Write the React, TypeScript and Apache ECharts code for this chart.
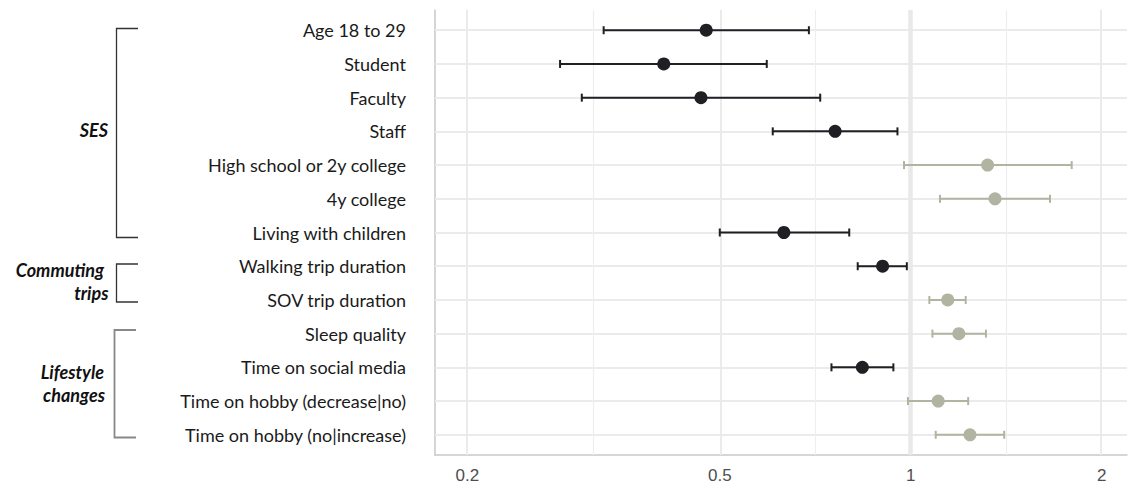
import React, { useEffect, useRef } from "react";
import * as echarts from "echarts";

// ---------- data ----------
const categories = [
  "Age 18 to 29",
  "Student",
  "Faculty",
  "Staff",
  "High school or 2y college",
  "4y college",
  "Living with children",
  "Walking trip duration",
  "SOV trip duration",
  "Sleep quality",
  "Time on social media",
  "Time on hobby (decrease|no)",
  "Time on hobby (no|increase)",
];
const estimates = [0.476, 0.408, 0.467, 0.76, 1.322, 1.358, 0.631, 0.903, 1.144, 1.191, 0.839, 1.105, 1.24];
const lowerCI = [0.328, 0.28, 0.303, 0.606, 0.976, 1.112, 0.5, 0.825, 1.07, 1.082, 0.75, 0.99, 1.095];
const upperCI = [0.691, 0.593, 0.72, 0.953, 1.794, 1.658, 0.8, 0.986, 1.221, 1.314, 0.939, 1.232, 1.404];
const significant = [true, true, true, true, false, false, true, true, false, false, true, false, false];
const xTickLabels = [0.2, 0.5, 1, 2];
const majorBreaks = [0.2, 0.5, 2];
const minorBreaks = [0.316, 0.707, 1.414];
const referenceValue = 1;

const DARK = "#1f1f24";
const GREY = "#b1b4a1";
const GRID = "#ebebeb";

export default function App() {
  const ref = useRef<HTMLDivElement>(null);

  useEffect(() => {
    if (!ref.current) return;
    const chart = echarts.init(ref.current, null, { renderer: "svg" });
    const lg = (v: number) => Math.log10(v);

    const rows = categories.map((c, i) => i + 1);

    const vLines = [
      ...majorBreaks.map((v) => ({ xAxis: lg(v), lineStyle: { color: GRID, width: 2, type: "solid" } })),
      ...minorBreaks.map((v) => ({ xAxis: lg(v), lineStyle: { color: "#eeeeee", width: 1.2, type: "solid" } })),
      { xAxis: lg(referenceValue), lineStyle: { color: "#e9e9e9", width: 4.5, type: "solid" } },
    ];
    const hLines = rows.map((r) => ({ yAxis: r, lineStyle: { color: GRID, width: 2, type: "solid" } }));

    const errData = categories.map((c, i) => [lg(lowerCI[i]), lg(upperCI[i]), i + 1, significant[i] ? 1 : 0]);

    const labelFont = "Lato, 'Open Sans', sans-serif";

    const option: any = {
      animation: false,
      grid: { left: 435, right: 2, top: 10, bottom: 33 },
      xAxis: {
        type: "value",
        min: -0.75,
        max: 0.341,
        splitLine: { show: false },
        axisTick: { show: false },
        axisLine: { show: true, onZero: false, lineStyle: { color: "#c9c9c9", width: 1.5 } },
        axisLabel: {
          customValues: xTickLabels.map(lg),
          formatter: (v: number) => String(+Math.pow(10, v).toFixed(2)),
          color: "#4d4d4d",
          fontSize: 17,
          fontFamily: "'Liberation Sans', Arial, sans-serif",
          margin: 12,
        },
      },
      yAxis: {
        type: "value",
        min: 0.4,
        max: 13.6,
        inverse: true,
        splitLine: { show: false },
        axisTick: { show: false },
        axisLine: { show: true, onZero: false, lineStyle: { color: "#c9c9c9", width: 1.5 } },
        axisLabel: {
          customValues: rows,
          formatter: (v: number) => categories[Math.round(v) - 1] ?? "",
          color: "#1a1a1a",
          fontSize: 18,
          fontFamily: labelFont,
          margin: 29,
        },
      },
      series: [
        {
          type: "scatter",
          data: [],
          z: 1,
          silent: true,
          markLine: {
            z: 1,
            silent: true,
            symbol: ["none", "none"],
            label: { show: false },
            data: [...hLines, ...vLines],
          },
        },
        {
          type: "custom",
          z: 6,
          silent: true,
          encode: { x: [0, 1], y: 2 },
          data: errData,
          renderItem: (params: any, api: any) => {
            const lo = api.coord([api.value(0), api.value(2)]);
            const hi = api.coord([api.value(1), api.value(2)]);
            const col = api.value(3) === 1 ? DARK : GREY;
            const st = { stroke: col, lineWidth: 2 };
            const cap = 4;
            return {
              type: "group",
              children: [
                { type: "line", shape: { x1: lo[0], y1: lo[1], x2: hi[0], y2: hi[1] }, style: st },
                { type: "line", shape: { x1: lo[0], y1: lo[1] - cap, x2: lo[0], y2: lo[1] + cap }, style: st },
                { type: "line", shape: { x1: hi[0], y1: hi[1] - cap, x2: hi[0], y2: hi[1] + cap }, style: st },
              ],
            };
          },
        },
        {
          type: "scatter",
          z: 7,
          symbol: "circle",
          symbolSize: 13,
          silent: true,
          data: categories.map((c, i) => ({
            value: [lg(estimates[i]), i + 1],
            itemStyle: { color: significant[i] ? DARK : GREY, opacity: 1 },
          })),
        },
      ],
      graphic: [
        {
          type: "polyline",
          shape: { points: [[138, 28.5], [116.5, 28.5], [116.5, 237.5], [138, 237.5]] },
          style: { stroke: "#333333", lineWidth: 1.3, fill: "none" },
        },
        {
          type: "polyline",
          shape: { points: [[138, 264], [116.5, 264], [116.5, 302], [138, 302]] },
          style: { stroke: "#333333", lineWidth: 1.3, fill: "none" },
        },
        {
          type: "polyline",
          shape: { points: [[136, 330], [114.5, 330], [114.5, 437.5], [136, 437.5]] },
          style: { stroke: "#888888", lineWidth: 1.8, fill: "none" },
        },
        {
          type: "text",
          x: 108,
          y: 130,
          style: { text: "SES", font: `italic bold 18px ${labelFont}`, fill: "#111", align: "right", verticalAlign: "middle" },
        },
        {
          type: "text",
          x: 104,
          y: 270,
          style: { text: "Commuting", font: `italic bold 18px ${labelFont}`, fill: "#111", align: "right", verticalAlign: "middle" },
        },
        {
          type: "text",
          x: 108.5,
          y: 293,
          style: { text: "trips", font: `italic bold 18px ${labelFont}`, fill: "#111", align: "right", verticalAlign: "middle" },
        },
        {
          type: "text",
          x: 104,
          y: 372,
          style: { text: "Lifestyle", font: `italic bold 18px ${labelFont}`, fill: "#111", align: "right", verticalAlign: "middle" },
        },
        {
          type: "text",
          x: 105,
          y: 395,
          style: { text: "changes", font: `italic bold 18px ${labelFont}`, fill: "#111", align: "right", verticalAlign: "middle" },
        },
      ],
    };

    chart.setOption(option);
    return () => chart.dispose();
  }, []);

  return (
    <div
      ref={ref}
      style={{ position: "fixed", left: 0, top: 0, width: 1129, height: 488, background: "#ffffff" }}
    />
  );
}
